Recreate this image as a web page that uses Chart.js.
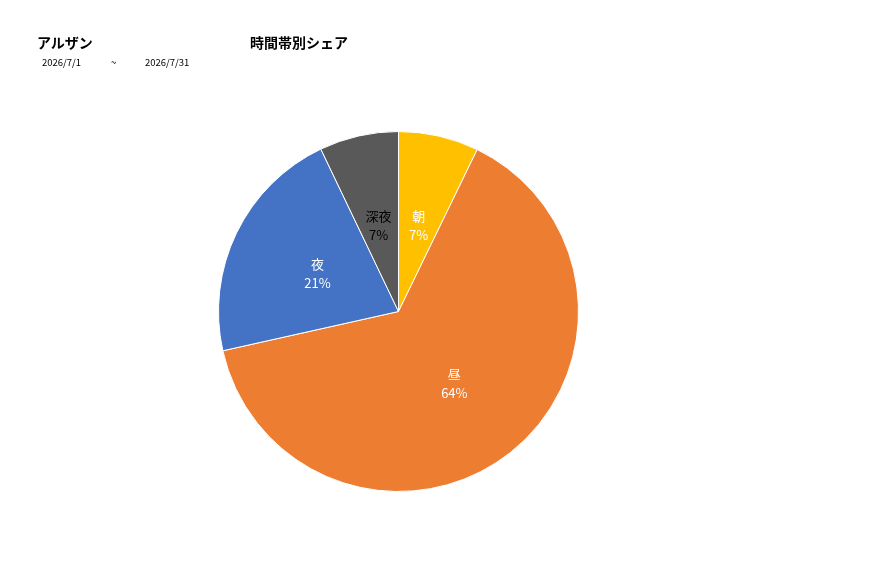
<!DOCTYPE html>
<html><head><meta charset="utf-8">
<script src="https://cdn.jsdelivr.net/npm/chart.js@4.4.1/dist/chart.umd.min.js"></script>
<style>
html,body{margin:0;padding:0;background:#fff;width:877px;height:578px;overflow:hidden;font-family:"Noto Sans CJK JP","Noto Sans",sans-serif;}
#wrap{position:relative;width:877px;height:578px;}
canvas{position:absolute;left:0;top:0;}
.t{position:absolute;white-space:nowrap;color:#000;}
</style></head><body>
<div id="wrap">
<canvas id="c" width="877" height="578"></canvas>
<div class="t" style="left:37px;top:32px;font-size:14px;font-weight:bold;">アルザン</div>
<div class="t" style="left:250px;top:32px;font-size:14px;font-weight:bold;">時間帯別シェア</div>
<div class="t" style="left:42px;top:55px;font-size:9.5px;">2026/7/1</div>
<div class="t" style="left:111px;top:55px;font-size:9.5px;">~</div>
<div class="t" style="left:145px;top:55px;font-size:9.5px;">2026/7/31</div>
</div>
<script>
const categories = ["朝", "昼", "夜", "深夜"];
const shares = [7.2, 64.3, 21.4, 7.1];
const sliceColors = ["#FFC000", "#ED7D31", "#4472C4", "#595959"];
const labelColors = ["#ffffff", "#ffffff", "#ffffff", "#000000"];

const labelPlugin = {
  id: 'sliceLabels',
  afterDatasetsDraw(chart) {
    const ctx = chart.ctx;
    const meta = chart.getDatasetMeta(0);
    const data = chart.data.datasets[0].data;
    const total = data.reduce((a, b) => a + b, 0);
    ctx.save();
    ctx.textAlign = 'center';
    ctx.textBaseline = 'middle';
    ctx.font = '13px "Noto Sans CJK JP", sans-serif';
    meta.data.forEach((arc, i) => {
      const p = arc.getCenterPoint();
      const pct = Math.round(data[i] / total * 100) + '%';
      ctx.fillStyle = labelColors[i];
      ctx.fillText(chart.data.labels[i], p.x, p.y - 8);
      ctx.fillText(pct, p.x, p.y + 11);
    });
    ctx.restore();
  }
};

new Chart(document.getElementById('c'), {
  type: 'pie',
  data: {
    labels: categories,
    datasets: [{
      data: shares,
      backgroundColor: sliceColors,
      borderColor: '#ffffff',
      borderWidth: 1
    }]
  },
  options: {
    responsive: false,
    animation: false,
    radius: 180,
    layout: { padding: { left: 218, right: 298, top: 131, bottom: 86 } },
    plugins: { legend: { display: false }, tooltip: { enabled: false } }
  },
  plugins: [labelPlugin]
});
</script>
</body></html>
